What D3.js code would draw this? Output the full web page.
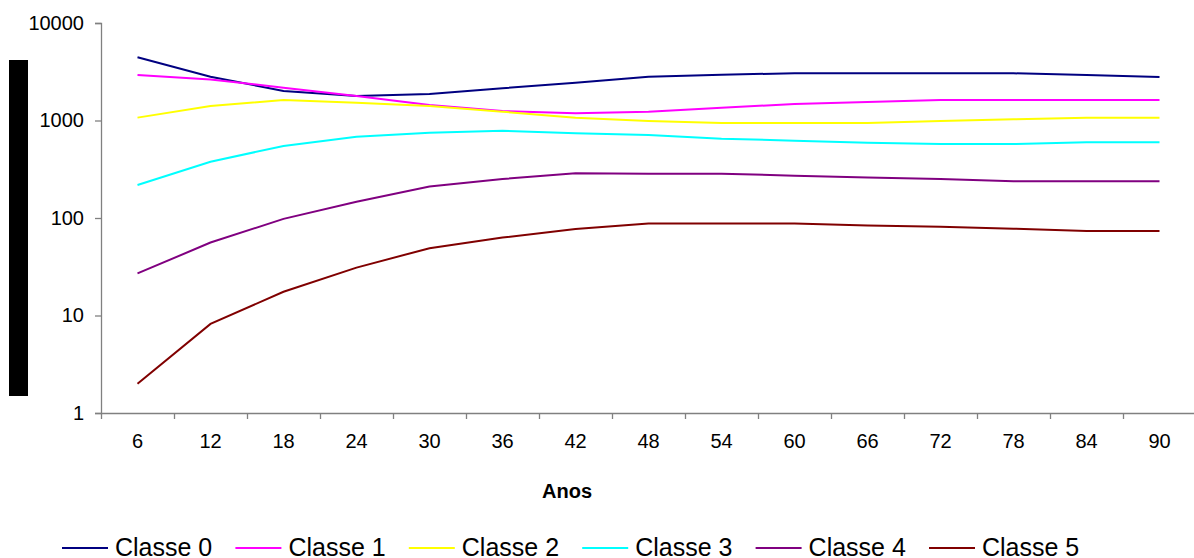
<!DOCTYPE html>
<html lang="pt">
<head>
<meta charset="UTF-8">
<title>Classes por anos</title>
<script src="https://d3js.org/d3.v7.min.js"></script>
<style>
  body { margin: 0; background: #fff; }
  svg { display: block; font-family: "Liberation Sans", Arial, sans-serif; }
</style>
</head>
<body>
<div id="chart"></div>
<script>
// data
var anos = ["6","12","18","24","30","36","42","48","54","60","66","72","78","84","90"];
var yTicks = [1, 10, 100, 1000, 10000];
var classes = ["Classe 0","Classe 1","Classe 2","Classe 3","Classe 4","Classe 5"];
var classe0 = [4450, 2810, 2010, 1780, 1870, 2140, 2440, 2810, 2950, 3050, 3050, 3050, 3050, 2930, 2790];
var classe1 = [2930, 2640, 2170, 1780, 1440, 1250, 1190, 1230, 1350, 1480, 1550, 1620, 1620, 1620, 1620];
var classe2 = [1070, 1410, 1620, 1520, 1410, 1230, 1070, 990, 943, 943, 945, 988, 1028, 1069, 1069];
var classe3 = [218, 378, 548, 682, 750, 786, 738, 710, 651, 621, 592, 574, 574, 598, 598];
var classe4 = [27, 56, 98, 147, 210, 251, 287, 285, 285, 272, 261, 251, 238, 238, 238];
var classe5 = [2.0, 8.2, 17.5, 31, 49, 63, 77, 88, 88, 88, 84, 81.5, 77.7, 73.6, 73.6];
var cores = ["#000080","#ff00ff","#ffff00","#00ffff","#800080","#800000"];

var series = [classe0, classe1, classe2, classe3, classe4, classe5];

var W = 1194, H = 558;
var m = {left: 101, right: 1196, top: 23, bottom: 413};

var svg = d3.select("#chart").append("svg")
  .attr("width", W).attr("height", H);

var x = d3.scaleBand().domain(anos).range([m.left, m.right]);
var xTick = d3.scaleLinear().domain([0, anos.length]).range([m.left, m.right]);
var y = d3.scaleLog().domain([1, 10000]).range([m.bottom, m.top]);

// black block where the y title sits
svg.append("rect")
  .attr("x", 9).attr("y", 60).attr("width", 19).attr("height", 336)
  .attr("fill", "#000");

// y axis
var gy = svg.append("g")
  .attr("transform", "translate(" + m.left + ",0)")
  .call(d3.axisLeft(y).tickValues(yTicks).tickFormat(d3.format("d")).tickSize(6).tickPadding(11));
gy.select(".domain").attr("stroke", "#808080").attr("stroke-width", 1.3);
gy.selectAll(".tick line").attr("stroke", "#808080").attr("stroke-width", 1.3);
gy.selectAll("text").attr("font-size", 20).attr("fill", "#000").attr("font-family", "Liberation Sans, Arial, sans-serif");

// x axis: tick marks between categories
var gxt = svg.append("g")
  .attr("transform", "translate(0," + m.bottom + ")")
  .call(d3.axisBottom(xTick).tickValues(d3.range(anos.length + 1)).tickFormat("").tickSize(6).tickSizeOuter(0));
gxt.select(".domain").attr("stroke", "#808080").attr("stroke-width", 1.3);
gxt.selectAll(".tick line").attr("stroke", "#808080").attr("stroke-width", 1.3);

// x axis labels
var gx = svg.append("g")
  .attr("transform", "translate(0," + m.bottom + ")")
  .call(d3.axisBottom(x).tickSize(0));
gx.select(".domain").remove();
gx.selectAll("text").attr("y", 35).attr("dy", 0)
  .attr("font-size", 20).attr("fill", "#000").attr("font-family", "Liberation Sans, Arial, sans-serif");

// axis title
svg.append("text")
  .attr("x", 567).attr("y", 498)
  .attr("text-anchor", "middle")
  .attr("font-size", 20).attr("font-weight", "bold")
  .text("Anos");

// lines
var line = d3.line()
  .x(function(d, i) { return x(anos[i]) + x.bandwidth() / 2; })
  .y(function(d) { return y(d); });

svg.append("g").selectAll("path")
  .data(series)
  .enter().append("path")
    .attr("d", line)
    .attr("fill", "none")
    .attr("stroke", function(d, i) { return cores[i]; })
    .attr("stroke-width", 2);

// legend
var leg = svg.append("g").selectAll("g")
  .data(classes)
  .enter().append("g")
    .attr("transform", function(d, i) { return "translate(" + (62 + i * 173.4) + ",548)"; });
leg.append("line")
  .attr("x1", 0).attr("x2", 46).attr("y1", 0).attr("y2", 0)
  .attr("stroke", function(d, i) { return cores[i]; })
  .attr("stroke-width", 2);
leg.append("text")
  .attr("x", 53).attr("y", 8)
  .attr("font-size", 25)
  .text(function(d) { return d; });
</script>
</body>
</html>
